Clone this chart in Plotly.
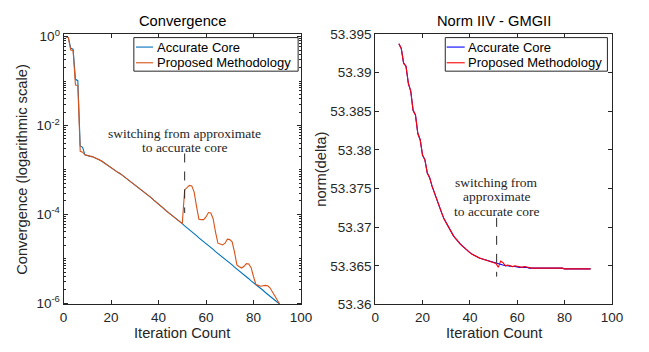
import plotly.graph_objects as go

# ---------------- data ----------------
# Left panel: convergence per iteration, stored as log10 of the residual
iters_left = list(range(1, 92))
accurate_log10 = [
    0.00, -0.02, -0.26, -0.28, -0.96, -0.99, -2.46, -2.49, -2.66, -2.68,
    -2.69, -2.70, -2.72, -2.74, -2.77, -2.80, -2.84, -2.87, -2.91, -2.94,
    -2.98, -3.02, -3.06, -3.09, -3.13, -3.17, -3.21, -3.25, -3.29, -3.33,
    -3.37, -3.41, -3.45, -3.50, -3.54, -3.59, -3.63, -3.68, -3.72, -3.77,
    -3.81, -3.86, -3.91, -3.95, -3.99, -4.03, -4.08, -4.12, -4.16, -4.21,
    -4.26, -4.30, -4.35, -4.39, -4.44, -4.48, -4.53, -4.57, -4.61, -4.66,
    -4.70, -4.75, -4.79, -4.84, -4.88, -4.92, -4.97, -5.01, -5.06, -5.10,
    -5.14, -5.19, -5.23, -5.28, -5.32, -5.36, -5.41, -5.45, -5.50, -5.54,
    -5.58, -5.63, -5.67, -5.71, -5.76, -5.80, -5.84, -5.89, -5.93, -5.97, -6.02,
]
proposed_log10 = [
    0.00, -0.02, -0.30, -0.31, -1.09, -1.10, -2.58, -2.60, -2.66, -2.68,
    -2.69, -2.70, -2.72, -2.74, -2.77, -2.80, -2.84, -2.87, -2.91, -2.94,
    -2.98, -3.02, -3.06, -3.09, -3.13, -3.17, -3.21, -3.25, -3.29, -3.33,
    -3.37, -3.41, -3.45, -3.50, -3.54, -3.59, -3.63, -3.68, -3.72, -3.77,
    -3.81, -3.86, -3.91, -3.95, -3.99, -4.03, -4.08, -4.12, -4.16, -4.21,
    -3.45, -3.41, -3.35, -3.36, -3.50, -3.82, -4.11, -4.12, -4.12, -4.06,
    -3.96, -3.97, -4.10, -4.40, -4.65, -4.67, -4.69, -4.65, -4.56, -4.57,
    -4.62, -4.85, -5.14, -5.18, -5.21, -5.17, -5.11, -5.12, -5.20, -5.40,
    -5.58, -5.60, -5.62, -5.61, -5.60, -5.61, -5.66, -5.75, -5.84, -5.92, -6.02,
]

# Right panel: norm(delta) per iteration
iters_right = list(range(10, 92))
accurate_norm = [
    53.3937, 53.3931, 53.3912, 53.3908, 53.3886, 53.3876, 53.3851, 53.3845, 53.3821, 53.3813,
    53.3793, 53.3787, 53.3770, 53.3764, 53.3753, 53.3744, 53.3735, 53.3726, 53.3719, 53.3711,
    53.3705, 53.3699, 53.3694, 53.3689, 53.3685, 53.3681, 53.3678, 53.3675, 53.3672, 53.3669,
    53.3667, 53.3665, 53.3663, 53.3662, 53.3660, 53.3659, 53.3658, 53.3657, 53.3656, 53.3655,
    53.3654, 53.3653, 53.3652, 53.3651, 53.3651, 53.3650, 53.3650, 53.3649, 53.3649, 53.3649,
    53.3648, 53.3648, 53.3648, 53.3648, 53.3648, 53.3647, 53.3647, 53.3647, 53.3647, 53.3647,
    53.3647, 53.3647, 53.3647, 53.3647, 53.3647, 53.3647, 53.3647, 53.3647, 53.3647, 53.3647,
    53.3646, 53.3646, 53.3646, 53.3646, 53.3646, 53.3646, 53.3646, 53.3646, 53.3646, 53.3646,
    53.3646, 53.3646,
]
proposed_norm = [
    53.3937, 53.3931, 53.3912, 53.3908, 53.3886, 53.3876, 53.3851, 53.3845, 53.3821, 53.3813,
    53.3793, 53.3787, 53.3770, 53.3764, 53.3753, 53.3744, 53.3735, 53.3726, 53.3719, 53.3711,
    53.3705, 53.3699, 53.3694, 53.3689, 53.3685, 53.3681, 53.3678, 53.3675, 53.3672, 53.3669,
    53.3667, 53.3665, 53.3663, 53.3662, 53.3660, 53.3659, 53.3658, 53.3657, 53.3656, 53.3655,
    53.3654, 53.3653, 53.3648, 53.3656, 53.3654, 53.3650, 53.3651, 53.3650, 53.3649, 53.3650,
    53.3649, 53.3648, 53.3648, 53.3649, 53.3648, 53.3647, 53.3647, 53.3647, 53.3647, 53.3647,
    53.3647, 53.3647, 53.3647, 53.3647, 53.3647, 53.3647, 53.3647, 53.3647, 53.3647, 53.3647,
    53.3646, 53.3646, 53.3646, 53.3646, 53.3646, 53.3646, 53.3646, 53.3646, 53.3646, 53.3646,
    53.3646, 53.3646,
]

series_names = ["Accurate Core", "Proposed Methodology"]
left_colors = ["#0072BD", "#D95319"]
right_colors = ["#0000FF", "#FF0000"]

# iteration at which the solver switches to the accurate core, and the
# vertical extent of the dashed marker in each panel
switch_left_x = 51
switch_left_span = [10 ** -2.63, 10 ** -3.97]
switch_right_x = 51.3
switch_right_span = [53.3712, 53.3636]
switch_lines_left = ["switching from approximate", "to accurate core"]
switch_lines_right = ["switching from", "approximate", "to accurate core"]

x_ticks = [0, 20, 40, 60, 80, 100]
left_y_tickvals = [1, 1e-2, 1e-4, 1e-6]
left_y_ticktext = ["10<sup>0</sup>", "10<sup>-2</sup>", "10<sup>-4</sup>", "10<sup>-6</sup>"]
right_y_tickvals = [53.36, 53.365, 53.37, 53.375, 53.38, 53.385, 53.39, 53.395]
right_y_ticktext = ["53.36", "53.365", "53.37", "53.375", "53.38", "53.385", "53.39", "53.395"]

# ---------------- figure ----------------
W, H = 649, 352
INK = "#262626"
SANS = "Liberation Sans, Arial, Helvetica, sans-serif"
SERIF = "Liberation Serif, Times New Roman, serif"

fig = go.Figure()

left_series = [accurate_log10, proposed_log10]
for name, vals, col in zip(series_names, left_series, left_colors):
    fig.add_trace(go.Scatter(
        x=iters_left, y=[10 ** v for v in vals], mode="lines", name=name,
        line=dict(color=col, width=1.1), showlegend=False,
        xaxis="x", yaxis="y",
    ))

right_series = [accurate_norm, proposed_norm]
for name, vals, col in zip(series_names, right_series, right_colors):
    fig.add_trace(go.Scatter(
        x=iters_right, y=vals, mode="lines", name=name,
        line=dict(color=col, width=1.1), showlegend=False,
        xaxis="x2", yaxis="y2",
    ))

# dashed switch markers
fig.add_trace(go.Scatter(
    x=[switch_left_x, switch_left_x], y=switch_left_span, mode="lines",
    line=dict(color=INK, width=1, dash="dash"), showlegend=False, hoverinfo="skip",
    xaxis="x", yaxis="y",
))
fig.add_trace(go.Scatter(
    x=[switch_right_x, switch_right_x], y=switch_right_span, mode="lines",
    line=dict(color=INK, width=1, dash="dash"), showlegend=False, hoverinfo="skip",
    xaxis="x2", yaxis="y2",
))

# axes box positions (paper fractions)
L_X = [61 / W, 304 / W]
R_X = [380 / W, 622.3 / W]
Y_DOM = [1 - 310.7 / H, 1 - 28 / H]

axis_common = dict(
    showline=True, linecolor=INK, linewidth=1, mirror="allticks",
    ticks="inside", ticklen=4, tickwidth=1, tickcolor=INK,
    showgrid=False, zeroline=False,
    tickfont=dict(family=SANS, size=13.5, color=INK),
)

minor_vals = [m * 10.0 ** k for k in range(-7, 1) for m in range(2, 10)] + \
             [10.0 ** k for k in (-1, -3, -5)]

fig.update_layout(
    width=W, height=H,
    margin=dict(l=0, r=0, t=0, b=0),
    paper_bgcolor="white", plot_bgcolor="white",
    xaxis=dict(domain=L_X, anchor="y", range=[0, 100], tickvals=x_ticks, **axis_common),
    yaxis=dict(domain=Y_DOM, anchor="x", type="log", range=[-6.03, 0.065],
               tickvals=left_y_tickvals, ticktext=left_y_ticktext,
               minor=dict(ticks="inside", ticklen=2, tickcolor=INK, tickvals=minor_vals),
               **axis_common),
    xaxis2=dict(domain=R_X, anchor="y2", range=[0, 100], tickvals=x_ticks, **axis_common),
    yaxis2=dict(domain=Y_DOM, anchor="x2", range=[53.36, 53.395],
                tickvals=right_y_tickvals, ticktext=right_y_ticktext, **axis_common),
)

ann = []
shapes = []

# titles
for xr, text in [("x domain", "Convergence"), ("x2 domain", "Norm IIV - GMGII")]:
    ann.append(dict(xref=xr, yref="paper", x=0.5, y=1 - 15 / H, text=text,
                    showarrow=False, xanchor="center", yanchor="middle",
                    font=dict(family=SANS, size=14.7, color="black")))

# axis titles
for xr in ["x domain", "x2 domain"]:
    ann.append(dict(xref=xr, yref="paper", x=0.5, y=1 - 341 / H, text="Iteration Count",
                    showarrow=False, xanchor="center", yanchor="middle",
                    font=dict(family=SANS, size=14.7, color=INK)))
ann.append(dict(xref="paper", yref="paper", x=19 / W, y=1 - 169.5 / H,
                text="Convergence (logarithmic scale)", textangle=-90,
                showarrow=False, xanchor="center", yanchor="middle",
                font=dict(family=SANS, size=14.7, color=INK)))
ann.append(dict(xref="paper", yref="paper", x=325 / W, y=1 - 169.5 / H,
                text="norm(delta)", textangle=-90,
                showarrow=False, xanchor="center", yanchor="middle",
                font=dict(family=SANS, size=14.7, color=INK)))

# switching captions (left axis is log, so y is given as log10)
for i, line in enumerate(switch_lines_left):
    ann.append(dict(xref="x", yref="y", x=switch_left_x, y=-2.171 - 0.324 * i, text=line,
                    showarrow=False, xanchor="center", yanchor="middle",
                    font=dict(family=SERIF, size=13.5, color=INK)))
for i, line in enumerate(switch_lines_right):
    ann.append(dict(xref="x2", yref="y2", x=switch_right_x, y=53.37578 - 0.001853 * i, text=line,
                    showarrow=False, xanchor="center", yanchor="middle",
                    font=dict(family=SERIF, size=13.5, color=INK)))

# legends drawn as boxed keys
legend_specs = [
    ("x domain", "y domain", left_colors, [0.296, 0.988], [0.305, 0.377], 0.384),
    ("x2 domain", "y2 domain", right_colors, [0.296, 0.981], [0.302, 0.378], 0.385),
]
rows = [0.951, 0.893]
for xr, yr, cols, box_x, key_x, text_x in legend_specs:
    shapes.append(dict(type="rect", xref=xr, yref=yr, x0=box_x[0], x1=box_x[1],
                       y0=0.862, y1=0.986, fillcolor="white",
                       line=dict(color=INK, width=1), layer="above"))
    for name, col, ry in zip(series_names, cols, rows):
        shapes.append(dict(type="line", xref=xr, yref=yr, x0=key_x[0], x1=key_x[1],
                           y0=ry, y1=ry, line=dict(color=col, width=1.1), layer="above"))
        ann.append(dict(xref=xr, yref=yr, x=text_x, y=ry, text=name, showarrow=False,
                        xanchor="left", yanchor="middle",
                        font=dict(family=SANS, size=13, color="black")))

fig.update_layout(annotations=ann, shapes=shapes)
fig.write_html("out.html")
